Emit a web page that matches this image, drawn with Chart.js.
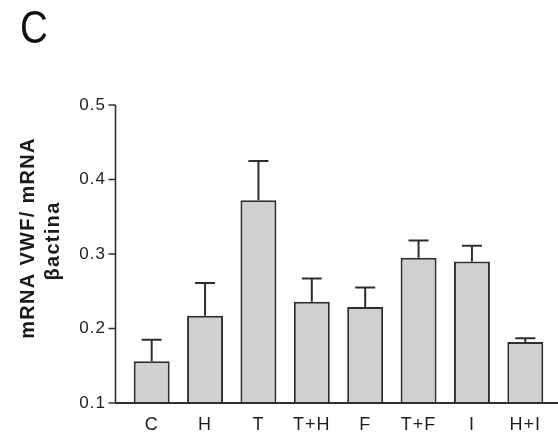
<!DOCTYPE html>
<html>
<head>
<meta charset="utf-8">
<script src="https://cdn.jsdelivr.net/npm/chart.js@4.4.1/dist/chart.umd.min.js"></script>
<style>
  html, body { margin: 0; padding: 0; background: #fff; }
  #wrap { width: 558px; height: 433px; position: relative; }
</style>
</head>
<body>
<div id="wrap"><canvas id="c" width="558" height="433"></canvas></div>
<script>
// Groups and measured mRNA ratios (mean and upper SEM bound)
const categories = ['C', 'H', 'T', 'T+H', 'F', 'T+F', 'I', 'H+I'];
const means      = [0.156, 0.217, 0.372, 0.236, 0.229, 0.295, 0.290, 0.182];
const upperError = [0.185, 0.261, 0.425, 0.267, 0.255, 0.318, 0.311, 0.187];
const yTicks     = [0.1, 0.2, 0.3, 0.4, 0.5];
const panelLabel = 'C';
const yTitle     = ['mRNA VWF/ mRNA', '\u03B2actina'];

const ink = '#2e2e2e';
const fontFam = '"Liberation Sans", Arial, Helvetica, sans-serif';

// Slightly open tracking for all chart text
const tracking = {
  id: 'tracking',
  beforeUpdate(chart) { chart.ctx.letterSpacing = '1px'; },
  beforeDraw(chart) { chart.ctx.letterSpacing = '1px'; }
};

// Axis lines, tick marks, error bars, panel letter and axis title
const decor = {
  id: 'decor',
  afterDatasetsDraw(chart) {
    const ctx = chart.ctx;
    const y = chart.scales.y;
    const area = chart.chartArea;
    const axisX = area.left - 9.5;

    // error bars (upper whisker + cap)
    const meta = chart.getDatasetMeta(0);
    ctx.save();
    ctx.strokeStyle = ink;
    ctx.lineWidth = 2;
    meta.data.forEach((bar, i) => {
      const top = y.getPixelForValue(means[i]);
      const hi = y.getPixelForValue(upperError[i]);
      ctx.beginPath();
      ctx.moveTo(bar.x, top);
      ctx.lineTo(bar.x, hi);
      ctx.moveTo(bar.x - 10, hi);
      ctx.lineTo(bar.x + 10, hi);
      ctx.stroke();
    });

    // y axis line and outward ticks
    ctx.lineWidth = 1.6;
    ctx.beginPath();
    ctx.moveTo(axisX, y.getPixelForValue(yTicks[yTicks.length - 1]));
    ctx.lineTo(axisX, area.bottom);
    yTicks.forEach(v => {
      const py = y.getPixelForValue(v);
      ctx.moveTo(axisX - 7, py);
      ctx.lineTo(axisX, py);
    });
    ctx.stroke();

    // x axis line
    ctx.lineWidth = 1.8;
    ctx.beginPath();
    ctx.moveTo(axisX, area.bottom);
    ctx.lineTo(chart.width, area.bottom);
    ctx.stroke();

    // panel letter
    ctx.letterSpacing = '0px';
    ctx.fillStyle = '#111';
    ctx.textAlign = 'left';
    ctx.textBaseline = 'alphabetic';
    ctx.save();
    ctx.translate(20, 43);
    ctx.scale(0.82, 1);
    ctx.font = '47px ' + fontFam;
    ctx.fillText(panelLabel, 0, 0);
    ctx.restore();

    // rotated axis title, two lines
    ctx.fillStyle = '#1a1a1a';
    ctx.textAlign = 'center';
    ctx.textBaseline = 'middle';
    ctx.letterSpacing = '1.3px';
    ctx.font = 'bold 20px ' + fontFam;
    ctx.save();
    ctx.translate(28, 238);
    ctx.rotate(-Math.PI / 2);
    ctx.fillText(yTitle[0], 0, 0);
    ctx.restore();
    ctx.save();
    ctx.translate(53, 241);
    ctx.rotate(-Math.PI / 2);
    ctx.fillText(yTitle[1], 0, 0);
    ctx.restore();
    ctx.restore();
  }
};

new Chart(document.getElementById('c'), {
  type: 'bar',
  data: {
    labels: categories,
    datasets: [{
      data: means,
      backgroundColor: '#d0d0d1',
      borderColor: ink,
      borderWidth: 2,
      borderSkipped: false,
      barPercentage: 0.674,
      categoryPercentage: 1.0
    }]
  },
  options: {
    responsive: false,
    animation: false,
    devicePixelRatio: 1,
    layout: { padding: { top: 105, right: 6, left: 0, bottom: 0 } },
    plugins: {
      legend: { display: false },
      tooltip: { enabled: false },
      title: { display: false }
    },
    scales: {
      x: {
        grid: { display: false, drawTicks: false },
        border: { display: false },
        ticks: {
          color: '#1e1e1e',
          font: { family: fontFam, size: 18 },
          padding: 11,
          maxRotation: 0,
          autoSkip: false
        },
        afterFit(scale) { scale.height = 30; }
      },
      y: {
        min: 0.1,
        max: 0.5,
        grid: { display: false, drawTicks: false },
        border: { display: false },
        afterBuildTicks(scale) { scale.ticks = yTicks.map(v => ({ value: v })); },
        ticks: {
          color: '#1e1e1e',
          font: { family: fontFam, size: 17 },
          padding: 19,
          callback: v => v.toFixed(1)
        },
        afterFit(scale) { scale.width = 125; }
      }
    }
  },
  plugins: [tracking, decor]
});
</script>
</body>
</html>
